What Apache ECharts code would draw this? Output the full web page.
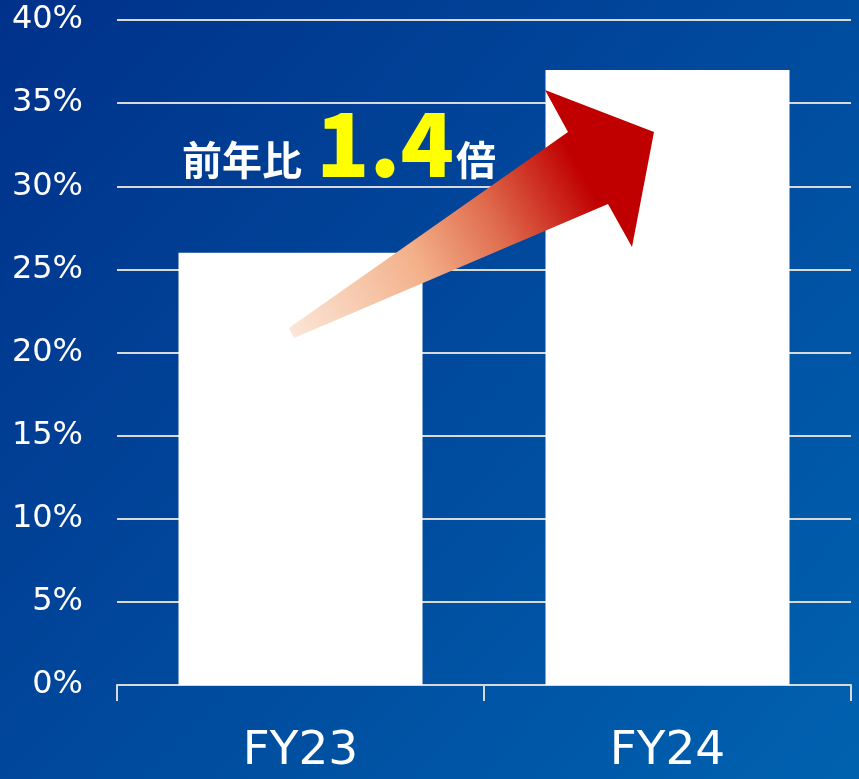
<!DOCTYPE html>
<html>
<head>
<meta charset="utf-8">
<script src="https://cdn.jsdelivr.net/npm/echarts@6/dist/echarts.min.js"></script>
<style>
  html, body { margin: 0; padding: 0; }
  #main { width: 859px; height: 779px; }
</style>
</head>
<body>
<div id="main"></div>
<script>
// データ
var categories = ["FY23", "FY24"];
var shareValues = [26, 37];
var yMax = 40;
var yStep = 5;
var ratioText = ["前年比", "1.4", "倍"];

var myChart = echarts.init(document.getElementById("main"));

// 矢印（注釈用）
var arrowFill = new echarts.graphic.LinearGradient(291, 333, 654, 132, [
  { offset: 0, color: "#fbe6d8" },
  { offset: 0.35, color: "#f3b089" },
  { offset: 0.56, color: "#df6b4d" },
  { offset: 0.8, color: "#c00000" },
  { offset: 1, color: "#c00000" },
], true);

var option = {
  backgroundColor: new echarts.graphic.LinearGradient(0, 0, 1, 1, [
    { offset: 0, color: "#00318a" },
    { offset: 1, color: "#0062b0" },
  ]),
  grid: {
    left: 117,
    right: 8,
    top: 20,
    bottom: 94,
  },
  xAxis: {
    type: "category",
    data: categories,
    axisLine: {
      show: true,
      lineStyle: { color: "#d9d9d9", width: 2 },
    },
    axisTick: {
      show: true,
      length: 16,
      lineStyle: { color: "#d9d9d9", width: 2 },
    },
    axisLabel: {
      color: "#fff",
      fontSize: 47,
      fontFamily: "DejaVu Sans",
      margin: 43,
    },
  },
  yAxis: {
    type: "value",
    min: 0,
    max: yMax,
    interval: yStep,
    axisLine: { show: false },
    axisTick: { show: false },
    splitLine: {
      lineStyle: { color: "#d9d9d9", width: 2 },
    },
    axisLabel: {
      color: "#fff",
      fontSize: 32,
      fontFamily: "DejaVu Sans",
      margin: 34,
      formatter: "{value}%",
    },
  },
  series: [
    {
      type: "bar",
      data: shareValues,
      barWidth: 244,
      itemStyle: { color: "#fff" },
      z: 2,
    },
  ],
  graphic: [
    {
      type: "polygon",
      z: 100,
      shape: {
        points: [
          [289, 328], [568, 132], [545, 90], [654, 132],
          [632, 247], [608, 204], [294, 338],
        ],
      },
      style: { fill: arrowFill },
    },
    {
      type: "text",
      z: 101,
      x: 182,
      y: 160,
      style: {
        text: ratioText[0],
        fill: "#fff",
        font: "bold 40px 'Noto Sans CJK JP'",
        align: "left",
        verticalAlign: "middle",
      },
    },
    {
      type: "text",
      z: 101,
      x: 316,
      y: 144,
      style: {
        text: ratioText[1],
        fill: "#ffff00",
        font: "900 88px 'Noto Sans CJK JP'",
        align: "left",
        verticalAlign: "middle",
      },
    },
    {
      type: "text",
      z: 101,
      x: 456,
      y: 160,
      style: {
        text: ratioText[2],
        fill: "#fff",
        font: "bold 40px 'Noto Sans CJK JP'",
        align: "left",
        verticalAlign: "middle",
      },
    },
  ],
};

myChart.setOption(option);
</script>
</body>
</html>
